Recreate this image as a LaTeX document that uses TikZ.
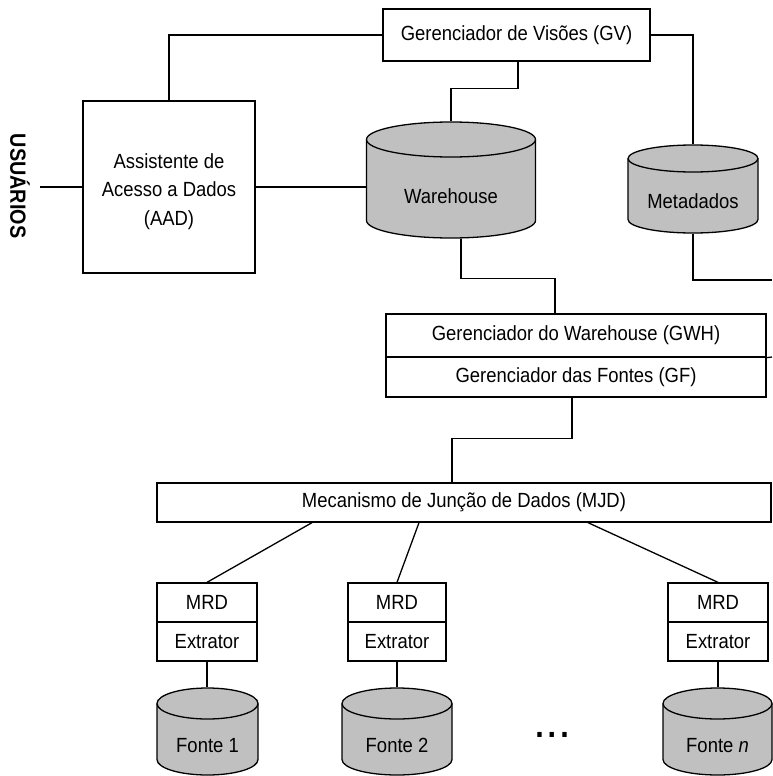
\documentclass[tikz,border=0pt]{standalone}
\usepackage{fontspec}
\newfontfamily\diagfont[FakeStretch=0.9]{Liberation Sans}

% cylinder: #1 name, #2 centre x, #3 x radius, #4 top ellipse centre y,
% #5 bottom ellipse centre y, #6 y radius, #7 label
\newcommand\drumshape[7]{%
  \filldraw[drum] (#2-#3,#4) -- (#2-#3,#5)
    arc[start angle=180,end angle=360,x radius=#3pt,y radius=#6pt]
    -- (#2+#3,#4)
    arc[start angle=0,end angle=180,x radius=#3pt,y radius=#6pt] -- cycle;
  \draw (#2-#3,#4) arc[start angle=180,end angle=360,x radius=#3pt,y radius=#6pt];
  \node[minimum width={2*#3*1pt}, minimum height={(#5-#4+2*#6)*1pt}]
    (#1) at (#2,{(#4+#5)/2}) {};
  \node (#1-text) at (#2,{(#4+#5)/2+#6-1.5}) {#7};
}

\begin{document}
\begin{tikzpicture}[x=1pt,y=-1pt,line width=1.3pt,
  every node/.style={font=\diagfont\fontsize{20.5}{28.5}\selectfont, inner sep=0pt},
  box/.style={draw, fill=white, rectangle},
  drum/.style={draw, fill=drumgray},
]
\definecolor{drumgray}{HTML}{C0C0C0}
\useasboundingbox (0,0) rectangle (772,776);

% upper tier
\node[box, minimum width=267pt, minimum height=52pt] (gv) at (516.5,35) {Gerenciador de Visões (GV)};
\node[box, minimum width=172pt, minimum height=172pt] (aad) at (169,187) {};
\node[align=center] (aad-text) at ([yshift=-4.5pt]aad.center) {Assistente de\\Acesso a Dados\\(AAD)};
\node[rotate=-90, font=\diagfont\bfseries\fontsize{22}{22}\selectfont] (users) at (20,186) {USUÁRIOS};
\coordinate (usrend) at (40,187);

\drumshape{wh}{451}{84.5}{139.5}{220.5}{17.5}{Warehouse}
\drumshape{meta}{693}{65}{158.5}{219.5}{13.5}{Metadados}

% managers
\node[box, minimum width=380pt, minimum height=43pt] (gwh) at (576,335.5) {Gerenciador do Warehouse (GWH)};
\node[box, minimum width=380pt, minimum height=40pt] (gf) at (576,377) {Gerenciador das Fontes (GF)};
\node[box, minimum width=614pt, minimum height=39pt] (mjd) at (464,502.5) {Mecanismo de Junção de Dados (MJD)};

% wrappers and extractors
\node[box, minimum width=100pt, minimum height=39pt] (mrd1) at (207,602.5) {MRD};
\node[box, minimum width=100pt, minimum height=39pt] (ext1) at (207,641.5) {Extrator};
\node[box, minimum width=98pt, minimum height=39pt] (mrd2) at (397,602.5) {MRD};
\node[box, minimum width=98pt, minimum height=39pt] (ext2) at (397,641.5) {Extrator};
\node[box, minimum width=100pt, minimum height=39pt] (mrdn) at (718,602.5) {MRD};
\node[box, minimum width=100pt, minimum height=39pt] (extn) at (718,641.5) {Extrator};

% sources
\drumshape{f1}{207.5}{50.5}{703.5}{759.5}{15.5}{Fonte 1}
\drumshape{f2}{397}{55}{703.5}{759.5}{15.5}{Fonte 2}
\drumshape{fn}{717.5}{54.5}{703.5}{759.5}{15.5}{Fonte \textit{n}}
\node[anchor=base, font=\diagfont\bfseries\fontsize{34}{34}\selectfont] (more) at (552,737.5) {.\kern4pt.\kern4pt.};

% off-page links
\coordinate (outmeta) at (772,280);
\coordinate (outgwh) at (772,357);

% connectors
\draw (gv.west) -| (aad.north);
\draw (gv.east) -| (meta.north);
\draw ([xshift=1.5pt]gv.south) -- ++(0,27) -| (wh.north);
\draw (aad.west) -- (usrend);
\draw (aad.east) -- (aad.east -| wh.west);
\draw ([xshift=10pt]wh.south) -- ++(0,40) -| ([xshift=-21pt]gwh.north);
\draw (meta.south) |- (outmeta);
\draw (gwh.south east) -- (outgwh);
\draw ([xshift=-4pt]gf.south) -- ++(0,41) -| ([xshift=-12pt]mjd.north);
\draw ([xshift=-152pt]mjd.south) -- (mrd1.north);
\draw ([xshift=-45pt]mjd.south) -- (mrd2.north);
\draw ([xshift=124pt]mjd.south) -- (mrdn.north);
\draw (ext1.south) -- (ext1.south |- f1.north);
\draw (ext2.south) -- (ext2.south |- f2.north);
\draw (extn.south) -- (extn.south |- fn.north);
\end{tikzpicture}
\end{document}
